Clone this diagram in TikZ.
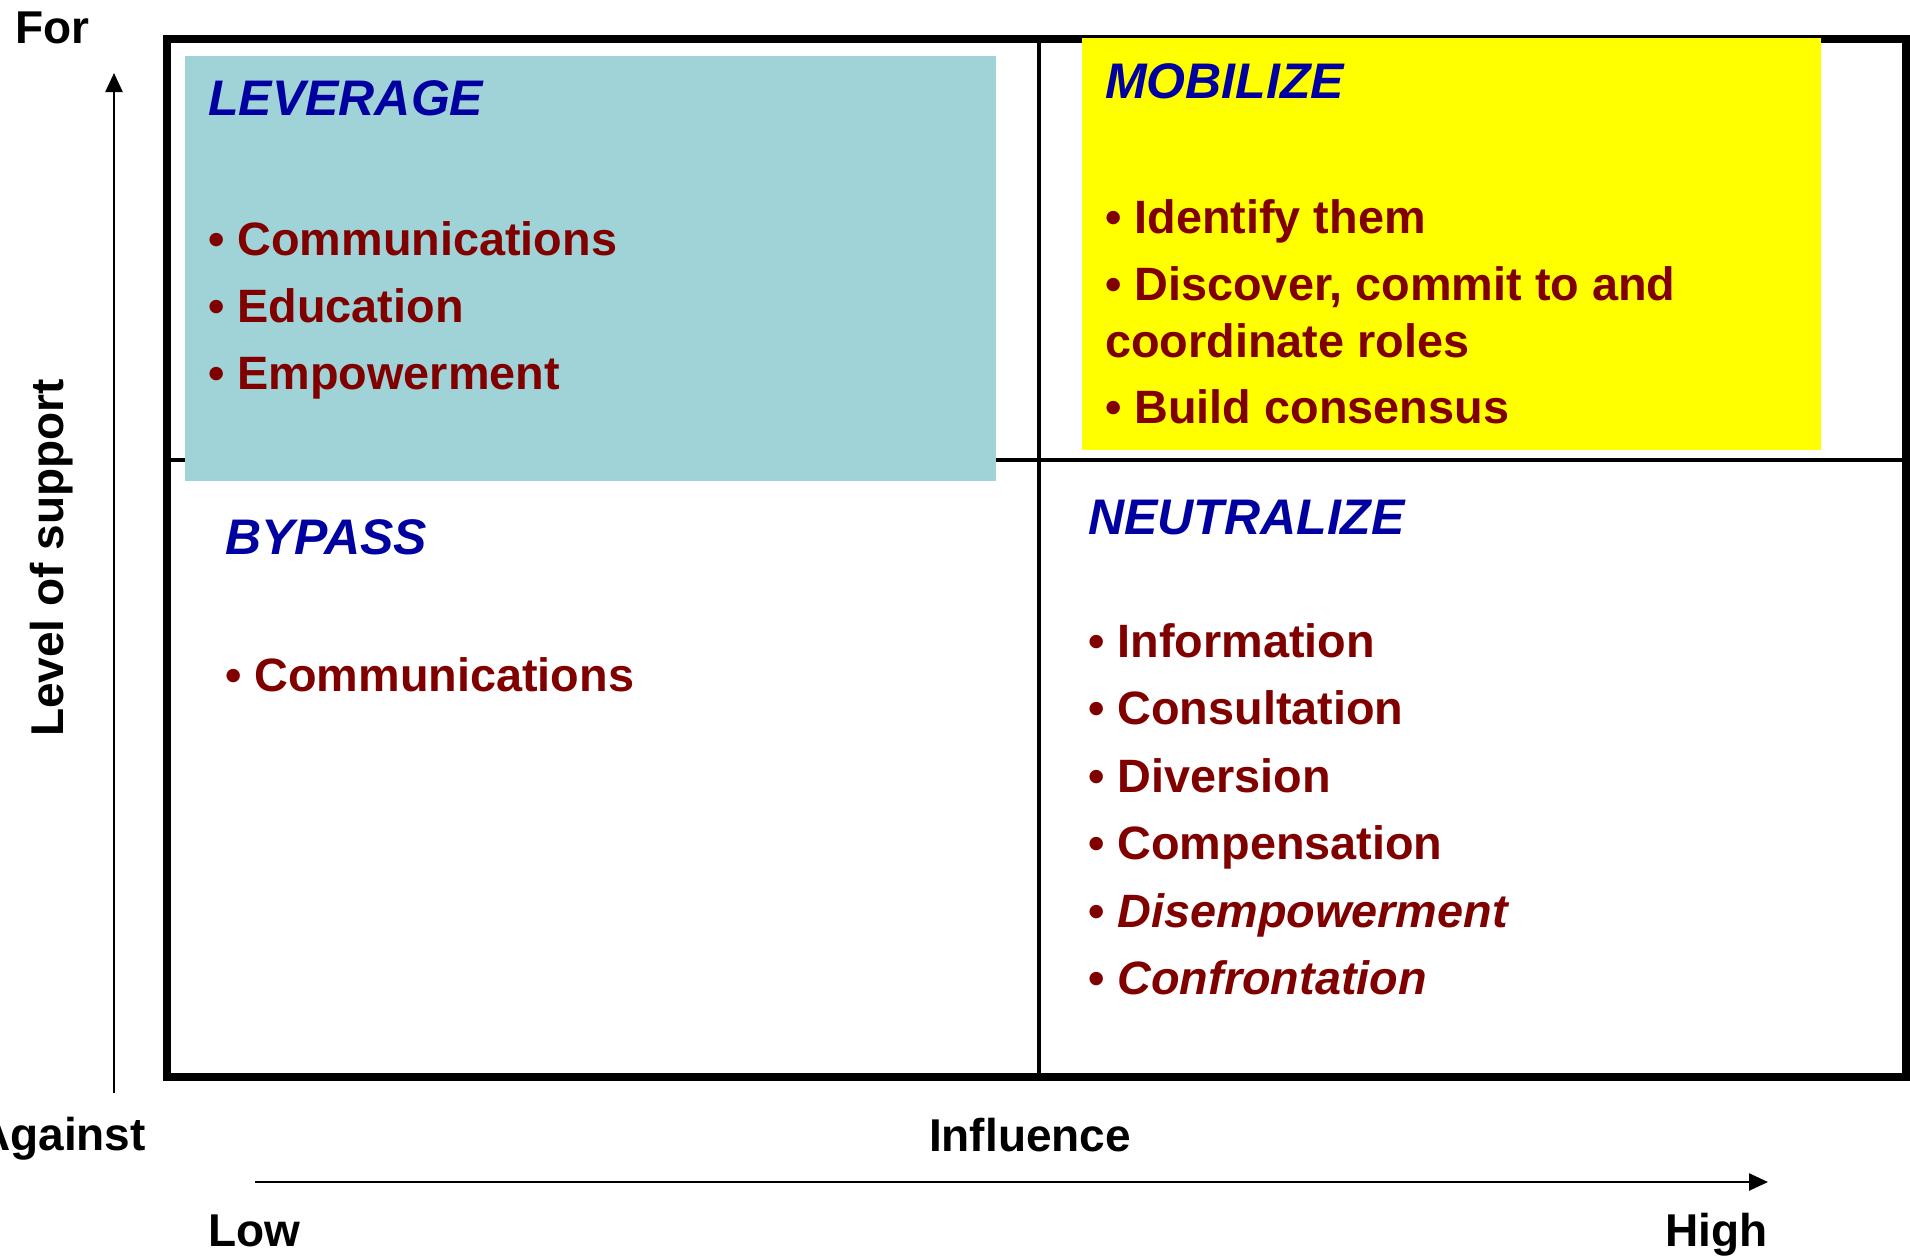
\documentclass[tikz,border=0pt]{standalone}
\usepackage{fontspec}
\setmainfont{Liberation Sans}
\usetikzlibrary{arrows.meta}
\definecolor{tealbox}{HTML}{9FD3D7}
\definecolor{ttlblue}{HTML}{0000A0}
\definecolor{itemred}{HTML}{800000}
\definecolor{hiyellow}{HTML}{FFFF00}
\begin{document}
\begin{tikzpicture}[x=1pt,y=-1pt,
  lab/.style={font=\fontsize{46}{55}\selectfont\bfseries, inner sep=0pt, text=black},
  ttl/.style={font=\fontsize{50}{60}\selectfont\bfseries\itshape, text=ttlblue, inner sep=0pt, anchor=base west},
  itm/.style={font=\fontsize{46.8}{56}\selectfont\bfseries, text=itemred, inner sep=0pt, anchor=base west},
  axis/.style={line width=2.5pt, -{Triangle[length=19pt,width=17pt]}},
  frame/.style={line width=8pt},
  divider/.style={line width=4pt}]
\useasboundingbox (0,0) rectangle (1910,1256);
\fill[white] (0,0) rectangle (1910,1256);
% grid
\draw[frame] (167,39) rectangle (1906,1077);
\draw[divider] (1039,39) -- (1039,1077);
\draw[divider] (167,460) -- (1906,460);
% coloured quadrant boxes
\fill[tealbox] (185,56) rectangle (996,481);
\fill[hiyellow] (1082,38) rectangle (1821,450);
% axes
\coordinate (vbot) at (114,1093);
\coordinate (vtop) at (114,73);
\draw[axis] (vbot) -- (vtop);
\coordinate (hl) at (255,1182);
\coordinate (hr) at (1768,1182);
\draw[axis] (hl) -- (hr);
% axis labels
\node[lab, anchor=base west] (for) at (15,43) {For};
\node[lab, anchor=base east] (against) at (146,1150) {Against};
\node[lab, anchor=base west] (low) at (208,1246) {Low};
\node[lab, anchor=base east] (high) at (1768,1246) {High};
\node[lab, anchor=base] (influence) at (1030,1151) {Influence};
\node[lab, anchor=base, rotate=90] (support) at (63,558) {Level of support};
% LEVERAGE
\node[ttl] (lev) at (208,115) {LEVERAGE};
\node[itm] (lev1) at (208,255) {• Communications};
\node[itm] (lev2) at (208,322) {• Education};
\node[itm] (lev3) at (208,389) {• Empowerment};
% MOBILIZE
\node[ttl] (mob) at (1105,98) {MOBILIZE};
\node[itm] (mob1) at (1105,233) {• Identify them};
\node[itm] (mob2) at (1105,300) {• Discover, commit to and};
\node[itm] (mob2b) at (1105,357) {coordinate roles};
\node[itm] (mob3) at (1105,423) {• Build consensus};
% BYPASS
\node[ttl] (byp) at (225,554) {BYPASS};
\node[itm] (byp1) at (225,691) {• Communications};
% NEUTRALIZE
\node[ttl] (neu) at (1088,534) {NEUTRALIZE};
\node[itm] (neu1) at (1088,657) {• Information};
\node[itm] (neu2) at (1088,724) {• Consultation};
\node[itm] (neu3) at (1088,792) {• Diversion};
\node[itm] (neu4) at (1088,859) {• Compensation};
\node[itm] (neu5) at (1088,927) {• \textit{Disempowerment}};
\node[itm] (neu6) at (1088,994) {• \textit{Confrontation}};
\end{tikzpicture}
\end{document}
